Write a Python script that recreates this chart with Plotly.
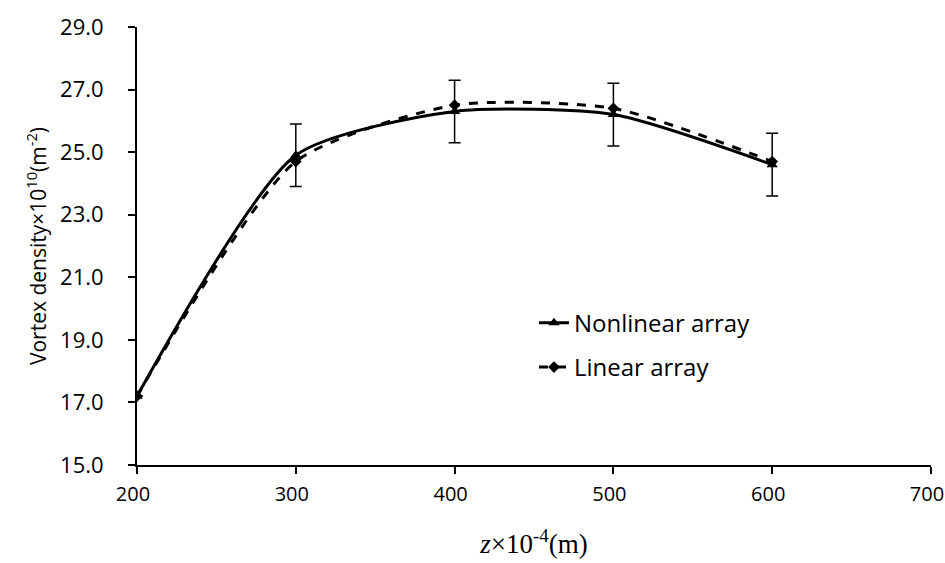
import plotly.graph_objects as go

z = [200, 300, 400, 500, 600]
nonlinear = [17.2, 24.9, 26.3, 26.2, 24.6]
linear = [17.2, 24.7, 26.5, 26.4, 24.7]
err = [0, 1.0, 1.0, 1.0, 1.0]

x_ticks = [200, 300, 400, 500, 600, 700]
y_ticks = [15, 17, 19, 21, 23, 25, 27, 29]

fig = go.Figure()
fig.add_trace(go.Scatter(
    x=z, y=nonlinear, name="Nonlinear array", mode="lines+markers", legendgroup="a",
    line=dict(color="black", width=3, shape="spline", smoothing=0.65),
    marker=dict(symbol="triangle-up", size=10, color="black"),
    error_y=dict(type="data", array=err, visible=True, color="black", thickness=1.5, width=6),
))
fig.add_trace(go.Scatter(
    x=z, y=linear, name="Linear array", mode="lines+markers", legendgroup="b",
    line=dict(color="black", width=3, shape="spline", smoothing=0.65, dash="dash"),
    marker=dict(symbol="diamond", size=9, color="black"),
))

fig.update_layout(
    width=945, height=563,
    margin=dict(l=137, r=14, t=27, b=98, autoexpand=False),
    paper_bgcolor="white", plot_bgcolor="white",
    font=dict(family="Open Sans", size=22, color="black"),
    showlegend=True,
    legend=dict(x=0.5, y=0.375, xanchor="left", yanchor="top",
                font=dict(family="Open Sans", size=24, color="black"),
                bgcolor="rgba(0,0,0,0)", tracegroupgap=10, traceorder="grouped"),
    xaxis=dict(range=[200, 700], tickvals=x_ticks, ticktext=[str(v) for v in x_ticks],
               showline=True, linecolor="black", linewidth=2, ticks="outside",
               ticklen=7, tickwidth=2, tickcolor="black", showgrid=False, zeroline=False,
               automargin=False, ticklabeloverflow="allow", ticklabelstandoff=3,
               ticklabelshift=-4, tickfont=dict(size=20),
               title=dict(text="<i>z</i>×10<sup>-4</sup>(m)",
                          font=dict(family="Liberation Serif", size=27), standoff=28)),
    yaxis=dict(range=[15, 29], tickvals=y_ticks, ticktext=[f"{v:.1f}" for v in y_ticks],
               showline=True, linecolor="black", linewidth=2, ticks="outside",
               ticklen=7, tickwidth=2, tickcolor="black", showgrid=False, zeroline=False,
               automargin=False, ticklabelstandoff=20,
               title=dict(text="Vortex density×10<sup>10</sup>(m<sup>-2</sup>)",
                          font=dict(family="Open Sans", size=21), standoff=8)),
)

fig.write_html("out.html", config={"displayModeBar": False},
               post_script="document.body.style.margin='0';")
